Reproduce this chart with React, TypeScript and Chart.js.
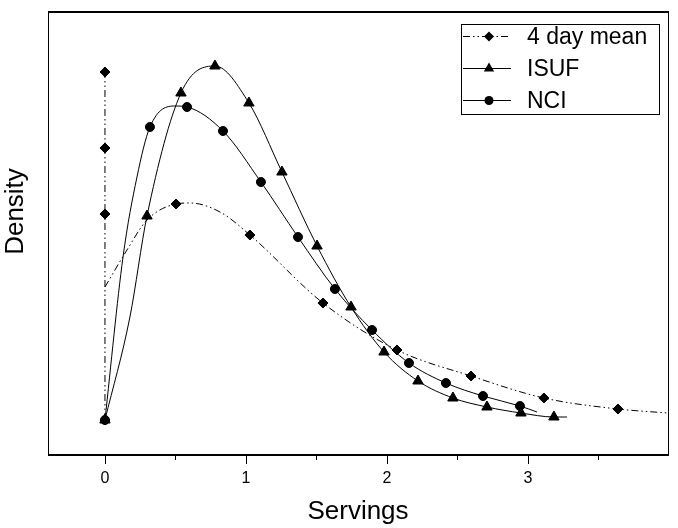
import React, { useEffect, useRef } from "react";
import { Chart, registerables } from "chart.js";

Chart.register(...registerables);

// ---- axis ticks ----
const xTickValues = [0, 0.5, 1, 1.5, 2, 2.5, 3, 3.5];
const xTickLabels = ["0", "", "1", "", "2", "", "3", ""];
const xMin = -0.404;
const xMax = 3.993;
const yMin = -0.0875;
const yMax = 1.02;

// ---- titles / legend labels ----
const xTitle = "Servings";
const yTitle = "Density";
const seriesNames = ["4 day mean", "ISUF", "NCI"];

// ---- 4 day mean: spike at zero servings ----
const meanSpikeX = [0, 0, 0, 0];
const meanSpikeY = [0, 0.515, 0.68, 0.87];

// ---- 4 day mean: density curve ----
const meanX = [0, 0.156, 0.298, 0.504, 0.603, 0.816, 1.028, 1.546, 2.071, 2.596, 3.113, 3.638, 3.993];
const meanY = [0.3325, 0.425, 0.5, 0.54, 0.5425, 0.52, 0.4625, 0.2925, 0.175, 0.11, 0.055, 0.0275, 0.0175];
const meanMarked = [false, false, false, true, false, false, true, true, true, true, true, true, false];

// ---- ISUF ----
const isufX = [0, 0.177, 0.298, 0.539, 0.78, 1.021, 1.255, 1.504, 1.745, 1.979, 2.22, 2.468, 2.709, 2.95, 3.184, 3.277];
const isufY = [0, 0.2575, 0.51, 0.8175, 0.885, 0.7925, 0.62, 0.435, 0.2825, 0.17, 0.0975, 0.055, 0.0325, 0.0175, 0.0075, 0.0075];
const isufMarked = [true, false, true, true, true, true, true, true, true, true, true, true, true, true, true, false];

// ---- NCI ----
const nciX = [0, 0.128, 0.227, 0.319, 0.496, 0.582, 0.837, 1.106, 1.369, 1.631, 1.894, 2.156, 2.418, 2.681, 2.943, 3.064];
const nciY = [0, 0.4075, 0.6075, 0.7325, 0.785, 0.7825, 0.7225, 0.595, 0.4575, 0.3275, 0.225, 0.1425, 0.0925, 0.06, 0.035, 0.02];
const nciMarked = [true, false, false, true, false, true, true, true, true, true, true, true, true, true, true, false];

const FONT = "'Liberation Sans', Arial, Helvetica, sans-serif";
const DASH = [7, 3, 1.5, 3, 1.5, 3];

const zip = (xs: number[], ys: number[]) => xs.map((x, i) => ({ x, y: ys[i] }));

function drawMarker(ctx: CanvasRenderingContext2D, style: string, x: number, y: number, r: number) {
  ctx.beginPath();
  if (style === "rectRot") {
    ctx.moveTo(x, y - r);
    ctx.lineTo(x + r, y);
    ctx.lineTo(x, y + r);
    ctx.lineTo(x - r, y);
  } else if (style === "triangle") {
    for (let k = 0; k < 3; k++) {
      const a = -Math.PI / 2 + (k * 2 * Math.PI) / 3;
      const px = x + Math.cos(a) * r;
      const py = y + Math.sin(a) * r;
      if (k === 0) ctx.moveTo(px, py);
      else ctx.lineTo(px, py);
    }
  } else {
    ctx.arc(x, y, r, 0, Math.PI * 2);
  }
  ctx.closePath();
  ctx.fill();
}

const decorPlugin = {
  id: "decor",
  afterDraw(chart: any) {
    const { ctx, chartArea: a, scales } = chart;
    ctx.save();
    ctx.fillStyle = "#000";
    ctx.strokeStyle = "#000";
    // frame
    ctx.fillRect(a.left, a.top - 1, a.right - a.left + 1, 2);
    ctx.fillRect(a.left, a.bottom - 1, a.right - a.left + 1, 2);
    ctx.fillRect(a.left, a.top, 1, a.bottom - a.top);
    ctx.fillRect(a.right, a.top, 1, a.bottom - a.top);
    // x ticks (major long, minor short)
    xTickValues.forEach((v, i) => {
      const px = Math.round(scales.x.getPixelForValue(v));
      const len = xTickLabels[i] ? 8 : 4;
      ctx.fillRect(px, a.bottom + 1, 1, len);
    });
    // axis titles
    ctx.font = `26px ${FONT}`;
    ctx.textAlign = "center";
    ctx.textBaseline = "alphabetic";
    ctx.fillText(xTitle, (a.left + a.right) / 2, 519);
    ctx.save();
    ctx.translate(23, 211.5);
    ctx.rotate(-Math.PI / 2);
    ctx.fillText(yTitle, 0, 0);
    ctx.restore();
    // legend
    const boxL = 461, boxT = 24, boxR = 659, boxB = 114;
    ctx.lineWidth = 1;
    ctx.strokeRect(boxL + 0.5, boxT + 0.5, boxR - boxL, boxB - boxT);
    const rowsY = [36, 68, 100];
    const styles = ["rectRot", "triangle", "circle"];
    const radii = [5, 6, 4.5];
    ctx.font = `23px ${FONT}`;
    ctx.textAlign = "left";
    seriesNames.forEach((name, i) => {
      const y = rowsY[i] + 0.5;
      ctx.setLineDash(i === 0 ? DASH : []);
      ctx.beginPath();
      ctx.moveTo(463, y);
      ctx.lineTo(511, y);
      ctx.stroke();
      ctx.setLineDash([]);
      drawMarker(ctx, styles[i], 489, y, radii[i]);
      ctx.fillText(name, 527, rowsY[i] + 8);
    });
    ctx.restore();
  },
};

export default function App() {
  const ref = useRef<HTMLCanvasElement | null>(null);

  useEffect(() => {
    if (!ref.current) return;
    const common = {
      borderColor: "#000",
      backgroundColor: "#000",
      borderWidth: 1,
      pointBackgroundColor: "#000",
      pointBorderColor: "#000",
      pointBorderWidth: 1,
      fill: false,
    };
    const chart = new Chart(ref.current, {
      type: "line",
      data: {
        datasets: [
          {
            ...common,
            label: seriesNames[0],
            data: zip(meanSpikeX, meanSpikeY),
            borderDash: DASH,
            tension: 0,
            pointStyle: "rectRot",
            pointRadius: 5,
          },
          {
            ...common,
            label: seriesNames[0],
            data: zip(meanX, meanY),
            borderDash: DASH,
            cubicInterpolationMode: "monotone",
            pointStyle: "rectRot",
            pointRadius: meanMarked.map((m) => (m ? 5 : 0)),
          },
          {
            ...common,
            label: seriesNames[1],
            data: zip(isufX, isufY),
            cubicInterpolationMode: "monotone",
            pointStyle: "triangle",
            pointRadius: isufMarked.map((m) => (m ? 6 : 0)),
          },
          {
            ...common,
            label: seriesNames[2],
            data: zip(nciX, nciY),
            cubicInterpolationMode: "monotone",
            pointStyle: "circle",
            pointRadius: nciMarked.map((m) => (m ? 4.5 : 0)),
          },
        ],
      } as any,
      options: {
        animation: false,
        responsive: false,
        devicePixelRatio: 1,
        events: [],
        layout: { padding: { top: 12, right: 10, left: 0, bottom: 0 } },
        plugins: { legend: { display: false }, tooltip: { enabled: false } },
        scales: {
          x: {
            type: "linear",
            min: xMin,
            max: xMax,
            afterBuildTicks: (s: any) => {
              s.ticks = xTickValues.map((v) => ({ value: v }));
            },
            afterFit: (s: any) => {
              s.height = 73;
            },
            grid: { display: false },
            border: { display: false },
            ticks: {
              autoSkip: false,
              maxRotation: 0,
              padding: 6,
              color: "#000",
              font: { family: FONT, size: 16 },
              callback: (v: any) => {
                const i = xTickValues.indexOf(Number(v));
                return i >= 0 ? xTickLabels[i] : "";
              },
            },
          },
          y: {
            type: "linear",
            min: yMin,
            max: yMax,
            afterFit: (s: any) => {
              s.width = 48;
            },
            grid: { display: false },
            border: { display: false },
            ticks: { display: false },
          },
        },
      } as any,
      plugins: [decorPlugin],
    });
    return () => chart.destroy();
  }, []);

  return (
    <div style={{ position: "fixed", left: 0, top: 0, width: 678, height: 528, background: "#fff" }}>
      <canvas ref={ref} width={678} height={528} style={{ display: "block" }} />
    </div>
  );
}
